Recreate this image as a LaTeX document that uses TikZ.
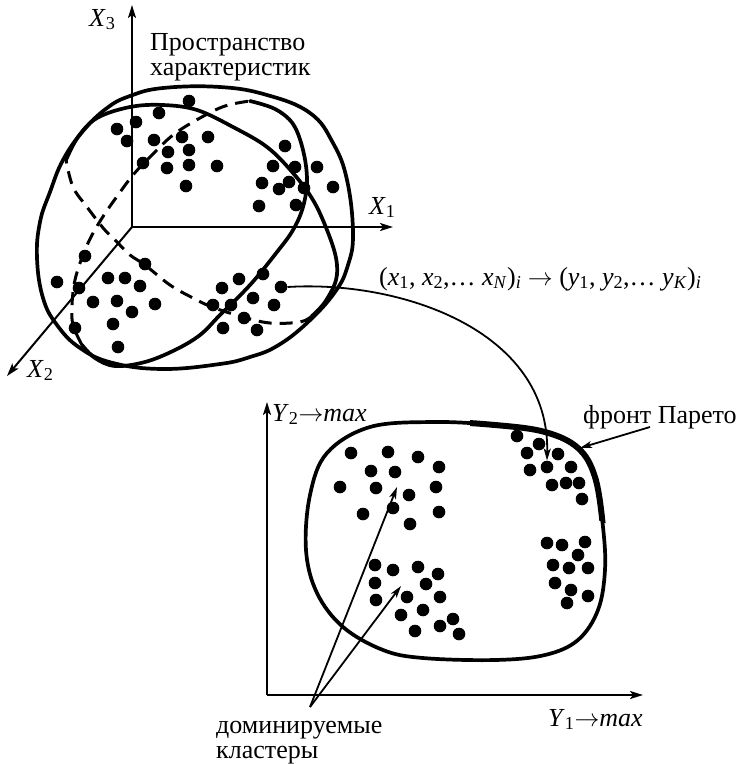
\documentclass[tikz,border=0pt]{standalone}
\usepackage{fontspec}
\setmainfont{Liberation Serif}
\usetikzlibrary{arrows.meta}
\newcommand{\toarr}{\ensuremath{\rightarrow}}
\begin{document}
\begin{tikzpicture}[x=1pt,y=-1pt,
  dot/.style={circle,fill=black,draw=none,minimum size=12.6pt,inner sep=0pt},
  lbl/.style={inner sep=0pt,anchor=base west,font=\fontsize{26}{25}\selectfont},
  axis/.style={line width=2pt,-{Stealth[length=13pt,width=8pt,inset=3pt]}},
  contour/.style={line width=3.7pt,line join=round,line cap=round},
  front/.style={line width=6pt,line cap=round},
  hidden/.style={line width=3pt,dash pattern=on 13pt off 8pt},
  pointer/.style={line width=1.8pt,-{Stealth[length=12pt,width=7pt,inset=3pt]}}]
\useasboundingbox (0,0) rectangle (745,764);

% ---------- top-left space of characteristics ----------
\draw[contour] plot[smooth cycle,tension=0.7] coordinates {(37,258) (40,222) (50,192) (63,160) (83,131) (107,108) (130,96) (163,88) (220,87) (267,95) (310,113) (333,143) (347,180) (353,233) (348,265) (335,292) (307,323) (277,346) (250,357) (220,364) (163,369) (113,363) (80,348) (57,325) (43,298)};
% tilted ellipse
\draw[contour] plot[smooth,tension=0.6] coordinates {(66,160) (78,137) (97,118) (130,107) (163,105) (197,110) (233,127) (267,147) (293,173) (313,200) (327,230) (336,258) (336,280) (325,302) (312,316)};
\draw[hidden] plot[smooth,tension=0.6] coordinates {(312,316) (300,322) (270,323) (243,317) (212,307) (193,298) (170,285) (145,265) (130,255) (117,242) (104,229) (87,207) (73,187) (66,160)};
% vertical ellipse
\draw[contour] plot[smooth,tension=0.6] coordinates {(250,101) (275,109) (293,124) (303,150) (307,180) (303,207) (293,230) (277,252) (250,285) (220,315) (200,335) (175,350) (145,362) (115,366) (95,358) (82,345)};
\draw[hidden] plot[smooth,tension=0.6] coordinates {(82,345) (73,325) (72,305) (75,280) (83,255) (92,235) (104,215) (118,195) (133,175) (150,157) (173,135) (200,118) (225,106) (250,101)};

% axes
\coordinate (O) at (132,227);
\coordinate (X3e) at (132,5);
\coordinate (X1e) at (393,227);
\coordinate (X2e) at (7,376);
\draw[axis] (O) -- (X3e);
\draw[axis] (O) -- (X1e);
\draw[axis] (O) -- (X2e);
\node[lbl] (lx3) at (89,26) {\textit{X}\textsubscript{3}};
\node[lbl] (lx1) at (369,214) {\textit{X}\textsubscript{1}};
\node[lbl] (lx2) at (27,377) {\textit{X}\textsubscript{2}};
\node[lbl] (sp1) at (150,50) {Пространство};
\node[lbl] (sp2) at (150,75) {характеристик};

% dots in space of characteristics
\foreach \x/\y [count=\i] in {189/101,159/113,136/122,117/129,127/141,154/140,182/137,208/137,168/152,189/150,143/163,167/168,189/165,217/166,186/186,
 285/146,273/166,295/167,317/167,262/183,289/182,279/189,304/188,333/187,259/206,296/205,
 85/256,57/282,79/288,108/278,125/278,140/286,145/264,93/302,117/301,155/304,132/312,75/328,113/324,118/347,
 263/274,239/279,222/288,213/305,231/305,253/298,274/305,244/318,223/328,257/330}
  \node[dot] (a\i) at (\x,\y) {};
\node[dot] (src) at (281,287) {};

% ---------- bottom: criteria space ----------
\coordinate (P) at (267,695);
\coordinate (Y2e) at (267,402);
\coordinate (Y1e) at (643,695);
\draw[axis] (P) -- (Y2e);
\draw[axis] (P) -- (Y1e);
\node[lbl] (ly2) at (272,421) {\textit{Y}\textsubscript{2}\toarr\textit{max}};
\node[lbl] (ly1) at (548,726) {\textit{Y}\textsubscript{1}\toarr\textit{max}};

\draw[contour] plot[smooth cycle,tension=0.6] coordinates {(306,550) (310,495) (327,453) (370,427) (433,422) (495,425) (545,432) (578,448) (595,477) (603,527) (605,570) (598,610) (578,640) (545,655) (495,660) (423,658) (383,650) (343,627) (317,593)};
\begin{scope}
\clip (470,380) -- (660,380) -- (660,545) -- (585,515) -- (560,440) -- (470,430) -- cycle;
\draw[front] plot[smooth cycle,tension=0.6] coordinates {(306,550) (310,495) (327,453) (370,427) (433,422) (495,425) (545,432) (578,448) (595,477) (603,527) (605,570) (598,610) (578,640) (545,655) (495,660) (423,658) (383,650) (343,627) (317,593)};
\end{scope}

\foreach \x/\y [count=\i] in {351/453,388/452,418/457,439/467,371/471,395/472,340/487,376/488,409/495,436/487,393/508,363/514,439/512,410/524,
 375/565,393/570,418/567,438/574,375/583,426/584,376/600,407/597,440/597,423/610,401/615,453/619,415/631,440/626,459/634,
 517/436,539/444,527/453,558/454,530/470,571/467,552/485,566/483,579/483,582/499,
 547/543,562/545,585/542,578/555,553/565,569/568,588/568,555/583,571/590,588/596,567/603}
  \node[dot] (b\i) at (\x,\y) {};
\node[dot] (tgt) at (547,467) {};

% mapping
\draw[pointer] (src.east) .. controls (400,280) and (550,330) .. (tgt.north);
\node[lbl] (map) at (379,285) {(\textit{x}\textsubscript{1}, \textit{x}\textsubscript{2},… \textit{x}\textsubscript{\textit{N}})\textsubscript{\textit{i}} \toarr{} (\textit{y}\textsubscript{1}, \textit{y}\textsubscript{2},… \textit{y}\textsubscript{\textit{K}})\textsubscript{\textit{i}}};

% Pareto front label
\node[lbl] (fp) at (583,423) {фронт Парето};
\coordinate (fpS) at (650,427);
\coordinate (fpT) at (580,448);
\draw[pointer] (fpS) -- (fpT);

% dominated clusters
\node[lbl] (dom) at (216,733) {доминируемые};
\node[lbl] (cl) at (216,758) {кластеры};
\coordinate (dS) at (310,707);
\coordinate (dA) at (397,487);
\coordinate (dB) at (401,586);
\draw[pointer] (dS) -- (dA);
\draw[pointer] (dS) -- (dB);
\end{tikzpicture}
\end{document}
